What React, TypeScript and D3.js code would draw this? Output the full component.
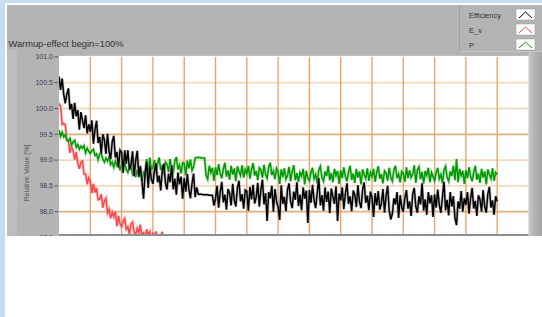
import * as React from "react";
import * as d3 from "d3";

// samples every 0.05 grid division
const step = 0.05;

const efficiency = [
  100.62, 100.36, 100.58, 100.28, 100.1, 100.28, 100.39, 99.98, 100.09, 99.8, 100.11, 99.85, 99.97, 99.59, 99.93, 99.77, 99.62, 99.87, 99.52, 99.69,
  99.55, 99.77, 99.32, 99.59, 99.76, 99.33, 99.45, 99.13, 99.5, 99.39, 99.12, 99.51, 99.17, 99.02, 99.36, 99.47, 99.05, 99.16, 98.86, 99.19,
  99.15, 98.75, 99.19, 98.93, 99.19, 98.81, 98.91, 99.17, 98.69, 98.99, 99.18, 98.68, 98.89, 98.59, 98.25, 98.75, 98.97, 98.46, 98.89, 98.63,
  98.54, 98.79, 98.94, 98.57, 98.7, 98.41, 98.82, 98.93, 98.56, 98.43, 98.74, 98.57, 98.9, 98.43, 98.64, 98.33, 98.76, 98.53, 98.68, 98.25,
  98.65, 98.39, 98.73, 98.43, 98.26, 98.55, 98.74, 98.28, 98.47, 98.34, 98.34, 98.34, 98.33, 98.33, 98.33, 98.33, 98.32, 98.32, 98.32, 98.12,
  98.25, 98.5, 98.08, 98.38, 98.58, 98.18, 98.33, 98.04, 98.44, 98.36, 98.12, 98.54, 98.22, 98.1, 98.46, 98.6, 98.2, 98.34, 98.06, 98.42,
  98.4, 98.02, 98.48, 98.24, 98.52, 98.16, 98.28, 98.56, 98.1, 98.42, 98.62, 98.14, 98.36, 97.82, 98.38, 98.26, 98.5, 98.0, 98.44, 98.2,
  98.09, 97.84, 98.51, 98.15, 98.29, 98.01, 98.43, 98.55, 98.19, 98.07, 98.39, 98.23, 98.57, 98.11, 98.33, 98.03, 98.47, 98.25, 98.41, 97.78,
  98.42, 98.17, 98.52, 98.22, 98.07, 98.37, 98.65, 98.12, 98.32, 98.02, 98.47, 98.19, 98.39, 97.97, 98.45, 98.29, 98.15, 98.49, 97.82, 98.35,
  98.22, 98.47, 98.05, 98.35, 98.55, 98.15, 98.3, 98.01, 98.41, 98.33, 98.09, 98.51, 98.19, 98.07, 98.43, 98.57, 98.17, 98.31, 98.03, 98.39,
  98.28, 97.9, 98.36, 98.12, 98.4, 98.04, 98.16, 98.44, 97.98, 98.3, 98.5, 98.02, 97.85, 97.96, 98.26, 98.14, 98.38, 97.88, 98.32, 98.08,
  98.0, 98.26, 98.42, 98.06, 98.2, 97.92, 98.34, 98.46, 98.1, 97.98, 98.3, 98.14, 98.55, 98.02, 98.24, 97.94, 98.38, 98.16, 98.32, 97.9,
  98.33, 98.08, 98.43, 98.13, 97.98, 98.28, 98.58, 98.03, 98.23, 97.93, 98.38, 98.1, 98.3, 97.88, 97.74, 98.2, 98.06, 98.4, 98.0, 98.26,
  98.13, 98.38, 97.96, 98.26, 98.46, 98.06, 98.21, 97.92, 98.32, 98.24, 98.0, 98.42, 98.1, 97.98, 98.34, 98.48, 98.08, 98.22, 97.94, 98.3,
  98.2,
];

const power = [
  99.58, 99.46, 99.54, 99.45, 99.49, 99.38, 99.37, 99.42, 99.29, 99.35, 99.38, 99.25, 99.3, 99.21, 99.27, 99.23, 99.28, 99.14, 99.23, 99.17,
  99.13, 99.18, 99.21, 99.09, 99.12, 99.01, 99.12, 99.13, 99.02, 98.96, 99.04, 98.98, 99.06, 98.91, 98.96, 98.86, 98.98, 98.89, 98.93, 98.8,
  98.93, 98.83, 98.94, 98.82, 98.76, 98.85, 98.9, 98.73, 98.79, 98.67, 98.81, 98.7, 98.76, 98.6, 98.75, 98.69, 99.02, 98.74, 99.05, 98.82,
  98.85, 99.0, 98.75, 98.93, 99.05, 98.81, 98.9, 98.72, 98.96, 98.92, 98.77, 99.02, 98.83, 98.76, 98.98, 99.06, 98.82, 98.9, 98.74, 98.95,
  98.94, 98.71, 98.99, 98.84, 99.01, 98.8, 98.87, 99.04, 99.05, 99.05, 99.05, 99.04, 99.04, 99.04, 98.7, 98.63, 98.89, 98.76, 98.85, 98.6,
  98.86, 98.71, 98.92, 98.74, 98.65, 98.83, 98.95, 98.68, 98.8, 98.62, 98.89, 98.72, 98.84, 98.59, 98.88, 98.78, 98.7, 98.9, 98.66, 98.82,
  98.74, 98.89, 98.64, 98.82, 98.94, 98.7, 98.79, 98.61, 98.85, 98.81, 98.66, 98.91, 98.72, 98.65, 98.87, 98.95, 98.71, 98.79, 98.63, 98.84,
  98.77, 98.54, 98.82, 98.67, 98.84, 98.63, 98.7, 98.87, 98.59, 98.78, 98.9, 98.61, 98.75, 98.58, 98.76, 98.69, 98.83, 98.53, 98.79, 98.65,
  98.6, 98.76, 98.85, 98.64, 98.72, 98.55, 98.81, 98.88, 98.66, 98.59, 98.78, 98.69, 98.89, 98.61, 98.75, 98.57, 98.83, 98.7, 98.79, 98.54,
  98.8, 98.65, 98.86, 98.68, 98.59, 98.77, 98.89, 98.62, 98.74, 98.56, 98.83, 98.66, 98.78, 98.53, 98.82, 98.72, 98.64, 98.84, 98.6, 98.76,
  98.68, 98.83, 98.58, 98.76, 98.88, 98.64, 98.73, 98.55, 98.79, 98.75, 98.6, 98.85, 98.66, 98.59, 98.81, 98.89, 98.65, 98.73, 98.57, 98.78,
  98.74, 98.58, 98.86, 98.65, 98.8, 98.66, 98.72, 98.9, 98.56, 98.81, 98.87, 98.63, 98.77, 98.55, 98.79, 98.7, 98.85, 98.57, 98.76, 98.68,
  98.6, 98.76, 98.85, 98.64, 98.72, 98.55, 98.81, 98.88, 98.66, 98.59, 98.78, 98.69, 98.89, 98.61, 99.02, 98.57, 98.83, 98.7, 98.79, 98.54,
  98.8, 98.65, 98.86, 98.68, 98.59, 98.77, 98.89, 98.62, 98.74, 98.56, 98.83, 98.66, 98.78, 98.53, 98.82, 98.72, 98.64, 98.84, 98.6, 98.76,
  98.72,
];

const ev = [
  100.1, 100.05, 99.69, 99.71, 99.69, 99.39, 99.37, 99.14, 99.27, 99.18, 99.01, 99.16, 98.94, 98.83, 98.96, 98.98, 98.73, 98.73, 98.53, 98.66,
  98.6, 98.36, 98.54, 98.37, 98.46, 98.23, 98.24, 98.34, 98.08, 98.2, 98.26, 97.98, 98.05, 97.87, 97.99, 97.9, 98.0, 97.72, 97.92, 97.77,
  97.71, 97.81, 97.87, 97.66, 97.71, 97.56, 97.76, 97.8, 97.61, 97.54, 97.68, 97.59, 97.75, 97.51, 97.61, 97.45, 97.66, 97.54, 97.61, 97.39,
  97.6, 97.46, 97.62, 97.47, 97.38, 97.52, 97.61, 97.37, 97.46,
];

const yTicks = [101.0, 100.5, 100.0, 99.5, 99.0, 98.5, 98.0, 97.5];
const darkRows = [99.5, 98.0];

const legendItems = [
  { name: "Efficiency", color: "#000000" },
  { name: "E_v", color: "#ff4a4a" },
  { name: "P", color: "#00a000" },
];

const title = "Warmup-effect begin=100%";
const yTitle = "Relative Value [%]";

const W = 542;
const H = 317;
const plotLeft = 59;
const plotRight = 528.5;
const plotTop = 56.9;
const plotBottom = 236;

const App: React.FC = () => {
  const x = d3.scaleLinear().domain([0, 15]).range([plotLeft, plotRight]);
  const y = d3.scaleLinear().domain([97.5, 101]).range([237.5, plotTop]);

  const line = d3
    .line<number>()
    .x((d, i) => x(i * step))
    .y((d) => y(d));

  const series = [
    { data: ev, color: "#ff4545", halo: "#ff9a9a" },
    { data: power, color: "#009a00", halo: "#7cc87c" },
    { data: efficiency, color: "#000000", halo: "#8a8a8a" },
  ];

  const font = "'Liberation Sans', Arial, sans-serif";

  return (
    <svg
      width={W}
      height={H}
      style={{ position: "absolute", left: 0, top: 0 }}
      fontFamily={font}
    >
      <defs>
        <clipPath id="plot">
          <rect x={plotLeft} y={plotTop - 1} width={plotRight - plotLeft} height={plotBottom - plotTop - 1} />
        </clipPath>
        <linearGradient id="edge" x1="0" x2="1">
          <stop offset="0" stopColor="#cbcbcb" />
          <stop offset="0.4" stopColor="#b4b4b4" />
          <stop offset="1" stopColor="#a4a4a4" />
        </linearGradient>
      </defs>
      <rect width={W} height={H} fill="#ffffff" />
      {/* window frame */}
      <rect x={0} y={0} width={W} height={3} fill="#c9ddf2" />
      <rect x={0} y={0} width={5} height={H} fill="#c9ddf2" />
      {/* panel */}
      <rect x={7} y={5} width={W - 7} height={plotBottom - 5} fill="#b4b4b4" />
      <rect x={7} y={50} width={10} height={plotBottom - 50} fill="#bdbdbd" />
      <rect x={plotRight} y={52} width={W - plotRight} height={plotBottom - 52} fill="url(#edge)" />

      {/* legend */}
      <line x1={459.5} x2={459.5} y1={5} y2={51} stroke="#a0a0a0" />
      <line x1={459.5} x2={W} y1={51.5} y2={51.5} stroke="#c6c6c6" />
      {legendItems.map((d, i) => {
        const cy = 15 + i * 15;
        return (
          <g key={d.name}>
            <text x={469} y={cy + 3} fontSize={7.5} fill="#333">
              {d.name}
            </text>
            <rect x={516} y={cy - 6} width={19} height={11} fill="#fff" stroke="#999" strokeWidth={0.5} />
            <polyline
              points={`519,${cy + 3} 525.5,${cy - 3} 532,${cy + 3}`}
              fill="none"
              stroke={d.color}
              strokeWidth={1}
            />
          </g>
        );
      })}

      <text x={8.5} y={47} fontSize={9.3} fill="#333">
        {title}
      </text>

      {/* plot area */}
      <rect x={plotLeft} y={plotTop - 1} width={plotRight - plotLeft} height={plotBottom - plotTop + 1} fill="#fff" />
      <g clipPath="url(#plot)">
        {yTicks.slice(1, -1).map((t) => (
          <line
            key={t}
            x1={plotLeft}
            x2={plotRight}
            y1={y(t)}
            y2={y(t)}
            stroke={darkRows.includes(t) ? "#e3ae7e" : "#f2d9c2"}
            strokeWidth={1.8}
          />
        ))}
        {d3.range(1, 15).map((t) => (
          <line key={t} x1={x(t)} x2={x(t)} y1={plotTop} y2={plotBottom} stroke="#e4a86e" strokeWidth={1.4} />
        ))}
        {series.map((s, i) => (
          <g key={i}>
            <path d={line(s.data) || undefined} fill="none" stroke={s.halo} strokeWidth={3} strokeOpacity={0.5} />
            <path d={line(s.data) || undefined} fill="none" stroke={s.color} strokeWidth={1.5} />
          </g>
        ))}
      </g>

      {/* y axis */}
      {yTicks.map((t) => (
        <g key={t} transform={`translate(0,${y(t)})`}>
          <line x1={54.5} x2={58} stroke="#555" />
          <text x={53} dy="0.33em" textAnchor="end" fontSize={7} fill="#3c3c5a">
            {t.toFixed(1)}
          </text>
        </g>
      ))}
      <text
        transform={`translate(29,${y(98.75)}) rotate(-90)`}
        textAnchor="middle"
        fontSize={7}
        fill="#5a5a5a"
      >
        {yTitle}
      </text>

      {/* bottom border of the panel, image is cut below */}
      <rect x={plotLeft} y={234} width={plotRight - plotLeft} height={2} fill="#8e8e8e" />
      <rect x={5} y={236} width={W - 5} height={H - 236} fill="#ffffff" />
    </svg>
  );
};

export default App;
